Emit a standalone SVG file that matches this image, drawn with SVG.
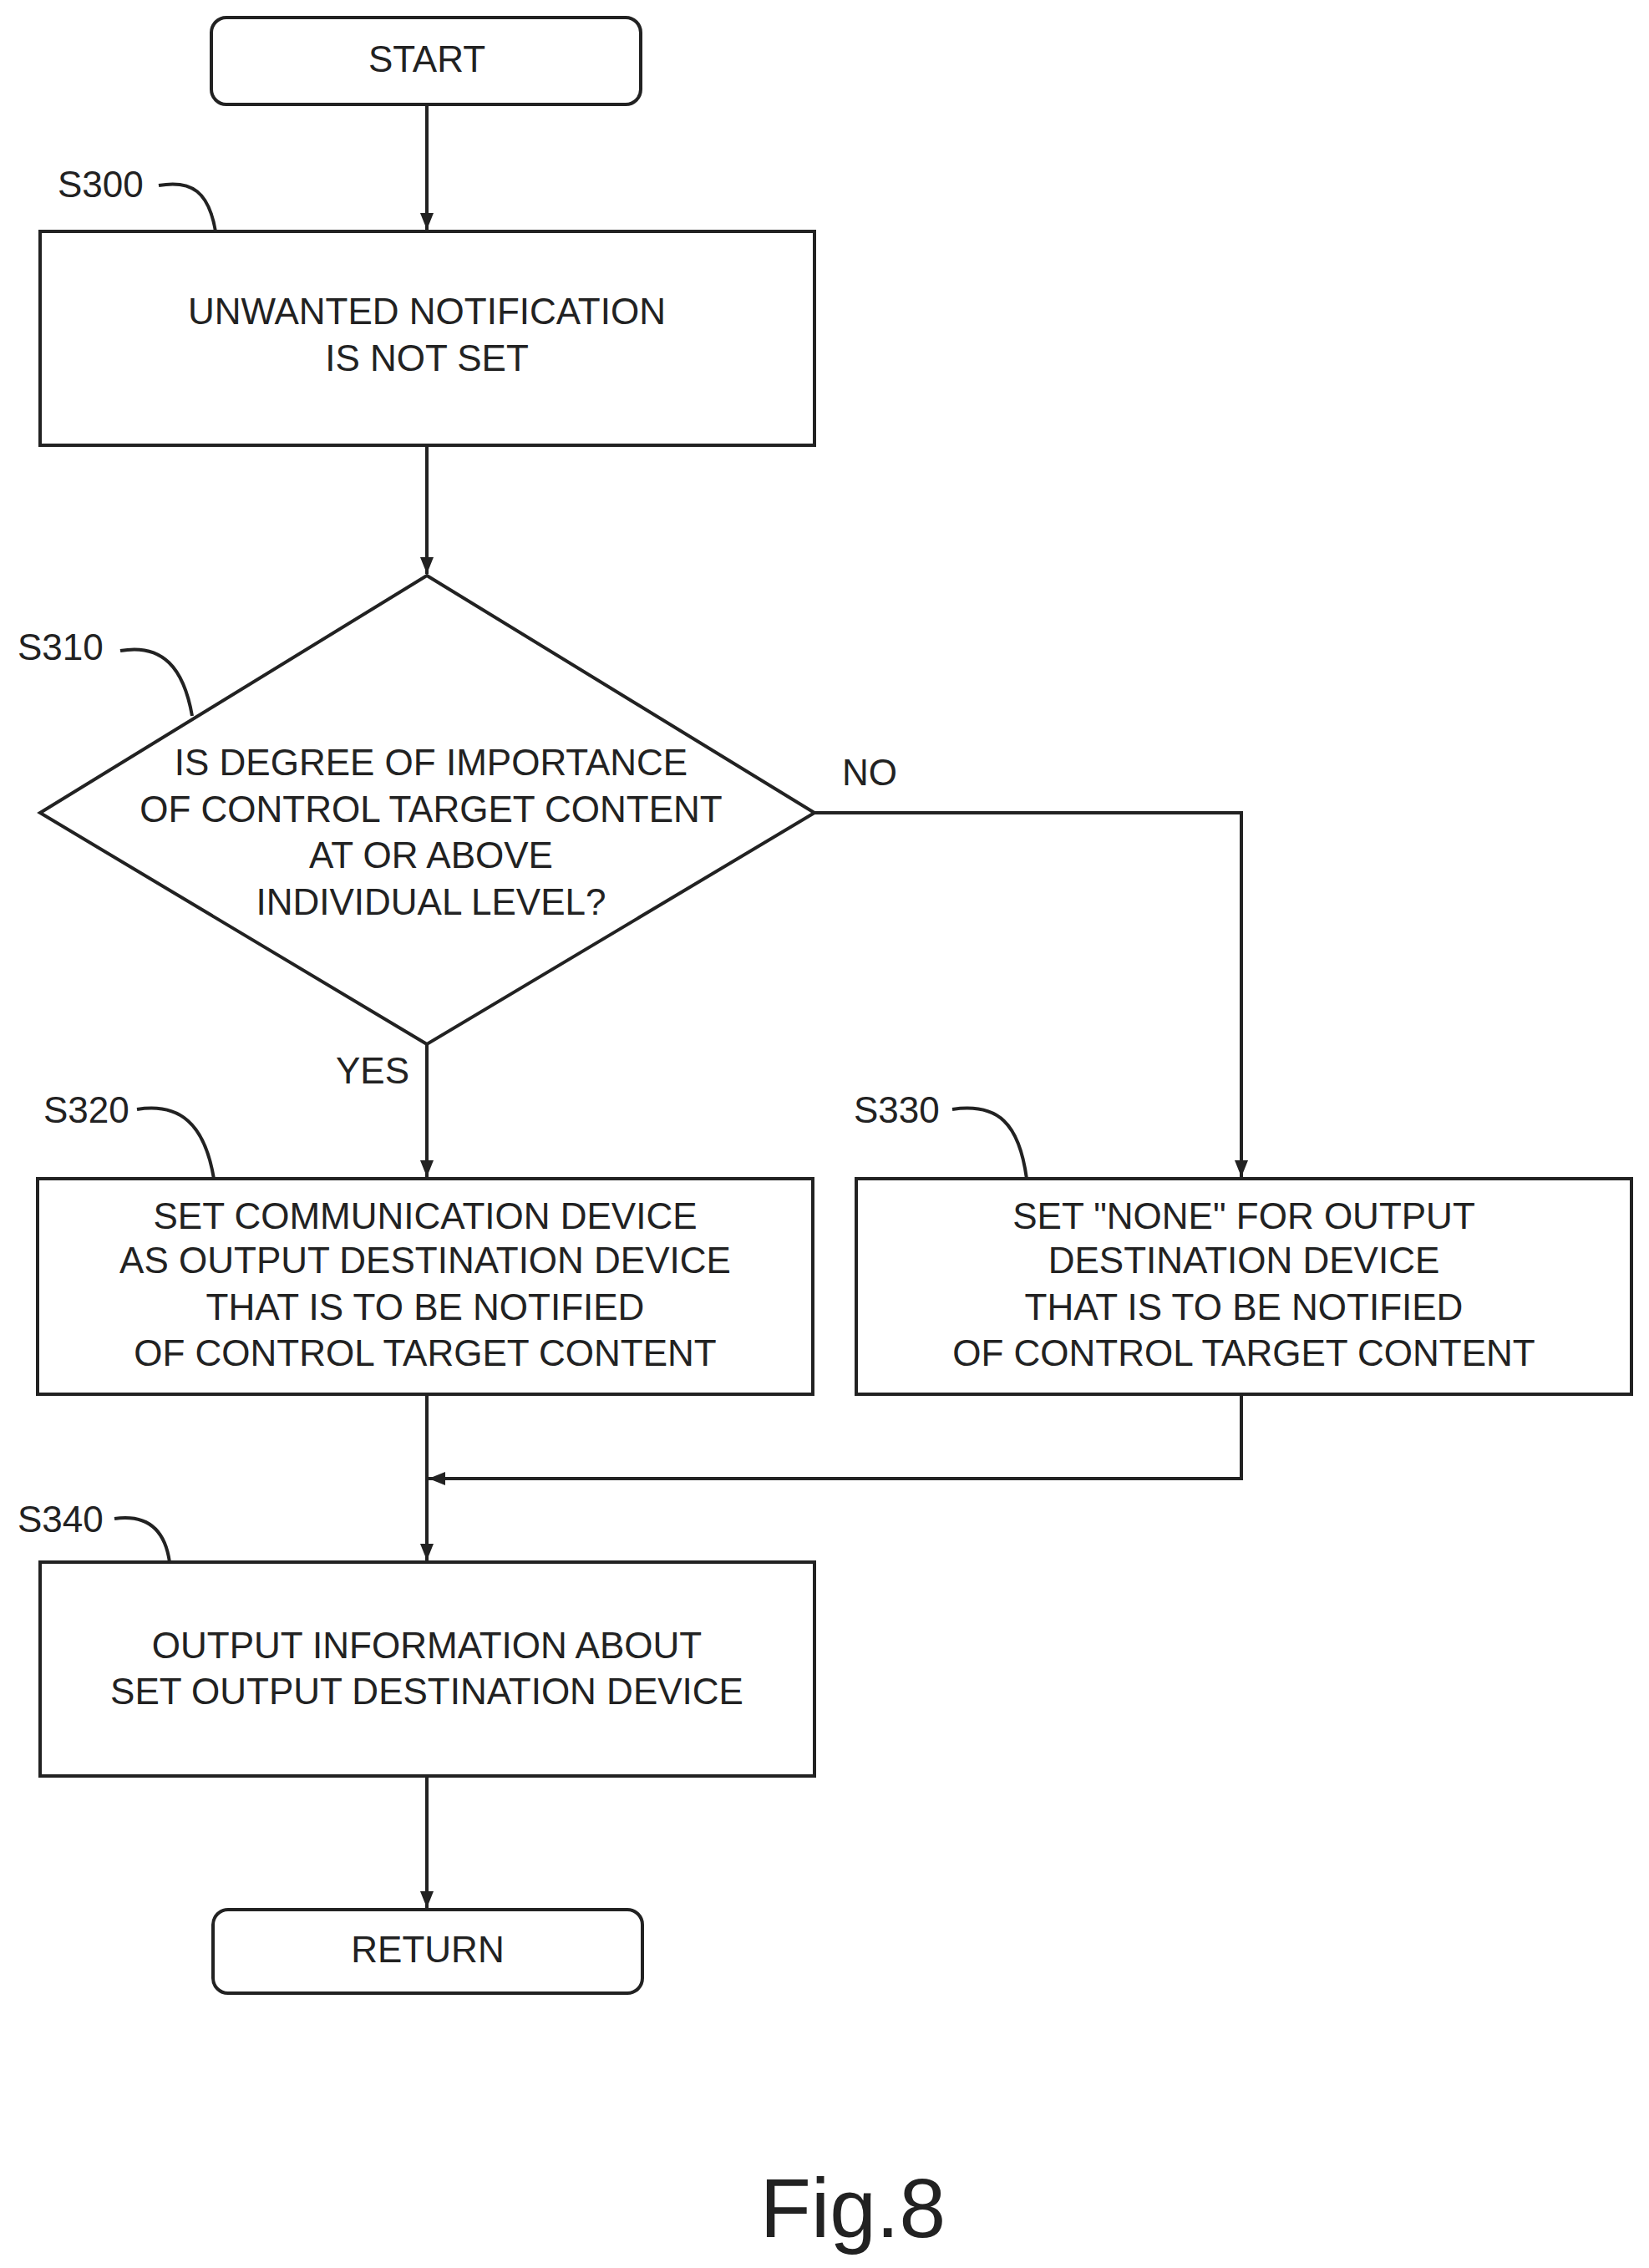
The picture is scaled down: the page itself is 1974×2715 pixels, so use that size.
<svg xmlns="http://www.w3.org/2000/svg" width="1974" height="2715" viewBox="0 0 1974 2715">
<style>
.b{fill:#fff;stroke:#222;stroke-width:4}
.t{font-family:"Liberation Sans",Arial,sans-serif;font-size:44px;fill:#222;text-anchor:middle}
.l{font-family:"Liberation Sans",Arial,sans-serif;font-size:44px;fill:#222}
.c{fill:none;stroke:#222;stroke-width:4}
</style>
<defs><marker id="a" markerWidth="10" markerHeight="10" refX="9" refY="5" orient="auto" markerUnits="userSpaceOnUse" viewBox="0 0 10 10"><path d="M0,0 L10,5 L0,10 z" fill="#222"/></marker>
<marker id="ah" markerWidth="22" markerHeight="22" refX="20" refY="11" orient="auto" markerUnits="userSpaceOnUse"><path d="M0,3 L20,11 L0,19 z" fill="#222"/></marker></defs>
<g id="connectors">
<path class="c" d="M511,125 V275" marker-end="url(#ah)"/>
<path class="c" d="M511,533 V687" marker-end="url(#ah)"/>
<path class="c" d="M511,1250 V1409" marker-end="url(#ah)"/>
<path class="c" d="M975,973 H1486 V1409" marker-end="url(#ah)"/>
<path class="c" d="M511,1669 V1868" marker-end="url(#ah)"/>
<path class="c" d="M1486,1669 V1770 H513" marker-end="url(#ah)"/>
<path class="c" d="M511,2126 V2284" marker-end="url(#ah)"/>
<path class="c" d="M190,222 C230,215 250,230 258,277"/>
<path class="c" d="M144,779 C195,770 220,800 230,857"/>
<path class="c" d="M164,1328 C215,1320 245,1345 256,1411"/>
<path class="c" d="M1140,1328 C1195,1320 1220,1345 1229,1411"/>
<path class="c" d="M137,1818 C180,1812 198,1835 203,1870"/>
</g>
<g id="start"><rect class="b" x="253" y="21" width="514" height="104" rx="18"/><text class="t" x="511" y="86">START</text></g>
<g id="s300"><rect class="b" x="48" y="277" width="927" height="256"/><text class="t" x="511" y="388">UNWANTED NOTIFICATION</text><text class="t" x="511" y="444">IS NOT SET</text><text class="l" x="69" y="236">S300</text></g>
<g id="s310"><path class="b" d="M511,689 L975,973 L511,1250 L48,973 Z"/><text class="t" x="516" y="928">IS DEGREE OF IMPORTANCE</text><text class="t" x="516" y="984">OF CONTROL TARGET CONTENT</text><text class="t" x="516" y="1039">AT OR ABOVE</text><text class="t" x="516" y="1095">INDIVIDUAL LEVEL?</text><text class="l" x="21" y="790">S310</text><text class="l" x="1008" y="940">NO</text><text class="l" x="402" y="1297">YES</text></g>
<g id="s320"><rect class="b" x="45" y="1411" width="928" height="258"/><text class="t" x="509" y="1471">SET COMMUNICATION DEVICE</text><text class="t" x="509" y="1524">AS OUTPUT DESTINATION DEVICE</text><text class="t" x="509" y="1580">THAT IS TO BE NOTIFIED</text><text class="t" x="509" y="1635">OF CONTROL TARGET CONTENT</text><text class="l" x="52" y="1344">S320</text></g>
<g id="s330"><rect class="b" x="1025" y="1411" width="928" height="258"/><text class="t" x="1489" y="1471">SET "NONE" FOR OUTPUT</text><text class="t" x="1489" y="1524">DESTINATION DEVICE</text><text class="t" x="1489" y="1580">THAT IS TO BE NOTIFIED</text><text class="t" x="1489" y="1635">OF CONTROL TARGET CONTENT</text><text class="l" x="1022" y="1344">S330</text></g>
<g id="s340"><rect class="b" x="48" y="1870" width="927" height="256"/><text class="t" x="511" y="1985">OUTPUT INFORMATION ABOUT</text><text class="t" x="511" y="2040">SET OUTPUT DESTINATION DEVICE</text><text class="l" x="21" y="1834">S340</text></g>
<g id="return"><rect class="b" x="255" y="2286" width="514" height="100" rx="18"/><text class="t" x="512" y="2349">RETURN</text></g>
<text x="1021" y="2678" style="font-family:'Liberation Sans',Arial,sans-serif;font-size:100px;fill:#222;text-anchor:middle">Fig.8</text>
</svg>
